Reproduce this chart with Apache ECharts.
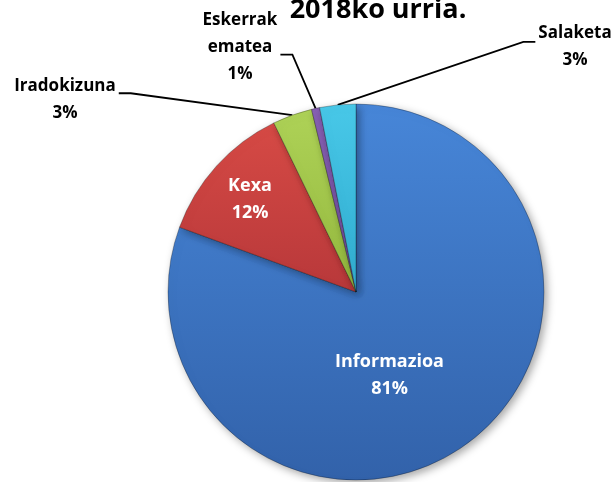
<!DOCTYPE html>
<html>
<head>
<meta charset="utf-8">
<script src="https://cdn.jsdelivr.net/npm/echarts@6/dist/echarts.min.js"></script>
<style>html,body{margin:0;padding:0;background:#fff;}#c{width:615px;height:482px;}</style>
</head>
<body>
<div id="c"></div>
<script>
var titleText = '2018ko urria.';
var categories = ['Informazioa', 'Kexa', 'Iradokizuna', 'Eskerrak\nematea', 'Salaketa'];
var values = [80.6, 12.2, 3.4, 0.7, 3.1];
var colorsTop = ['#4786d8', '#d64a45', '#aed257', '#8860b4', '#48c8e8'];
var colorsBottom = ['#3262aa', '#b8383a', '#94b83e', '#6e4c9c', '#30acd0'];
var insideLabels = [true, true, false, false, false];
// outside label placement (style/layout only)
var outsidePos = {2: {cx: 65, cy: 100, side: 'right', lineRow: 0.19}, 3: {cx: 240, cy: 47, side: 'right', lineRow: 0.47}, 4: {cx: 575, cy: 47, side: 'left', lineRow: 0.22}};
var insideOffset = {0: [-22, 4], 1: [-34, -28]};

var font = '"Open Sans", Lato, sans-serif';
var chart = echarts.init(document.getElementById('c'));

var data = categories.map(function (name, i) {
  return {
    name: name,
    value: values[i],
    itemStyle: {
      color: new echarts.graphic.LinearGradient(0, 0, 0, 1, [
        {offset: 0, color: colorsTop[i]},
        {offset: 1, color: colorsBottom[i]}
      ], false)
    },
    label: insideLabels[i] ? {
      position: 'inside', color: '#ffffff', fontSize: 18
    } : {
      position: 'outside', color: '#000000'
    },
    labelLine: {show: !insideLabels[i]}
  };
});

chart.setOption({
  animation: false,
  title: {
    text: titleText,
    left: 373, top: -8, textAlign: 'center',
    textStyle: {fontFamily: font, fontWeight: 'bold', fontSize: 27, color: '#000'}
  },
  series: [{
    type: 'pie',
    center: [356, 292],
    radius: 188,
    startAngle: 90,
    clockwise: true,
    percentPrecision: 0,
    data: data,
    itemStyle: {
      borderColor: 'rgba(0,0,0,0.35)',
      borderWidth: 0.8,
      shadowBlur: 8,
      shadowOffsetX: 3,
      shadowOffsetY: 3,
      shadowColor: 'rgba(0,0,0,0.35)'
    },
    label: {
      formatter: '{b}\n{d}%',
      fontFamily: font,
      fontWeight: 'bold',
      fontSize: 17,
      lineHeight: 27,
      align: 'center'
    },
    labelLine: {
      lineStyle: {color: '#000', width: 1.8},
      length: 20, length2: 10
    },
    labelLayout: function (p) {
      var i = p.dataIndex;
      if (insideOffset[i]) {
        return {dx: insideOffset[i][0], dy: insideOffset[i][1]};
      }
      var o = outsidePos[i];
      if (!o || !p.labelLinePoints) return {};
      var w = p.labelRect.width, h = p.labelRect.height;
      var top = o.cy - h / 2;
      var ly = top + h * o.lineRow + 10;
      var edgeX = o.side === 'right' ? o.cx + w / 2 + 3 : o.cx - w / 2 - 3;
      var kneeX = o.side === 'right' ? edgeX + 12 : edgeX - 12;
      var p0 = p.labelLinePoints[0];
      return {
        x: o.cx, y: o.cy, align: 'center', verticalAlign: 'middle',
        labelLinePoints: [p0, [kneeX, ly], [edgeX, ly]]
      };
    }
  }]
});
</script>
</body>
</html>
